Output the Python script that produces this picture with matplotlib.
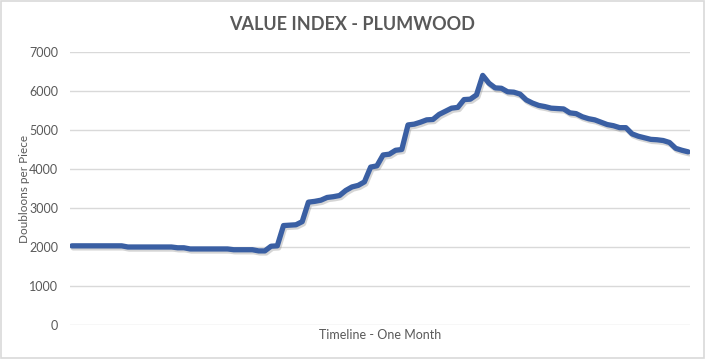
import numpy as np
import matplotlib
matplotlib.use('Agg')
import matplotlib.pyplot as plt
import matplotlib.patheffects as pe

# 价格指数，大约一个月的数据
values = [2030, 2030, 2030, 2030, 2030, 2030, 2030, 2030, 2030, 2000,
          2000, 2000, 2000, 2000, 2000, 2000, 2000, 1980, 1980, 1950,
          1950, 1950, 1950, 1950, 1950, 1950, 1930, 1930, 1930, 1930,
          1900, 1900, 2020, 2030, 2550, 2560, 2570, 2650, 3150, 3170,
          3200, 3270, 3290, 3320, 3450, 3540, 3580, 3670, 4050, 4080,
          4360, 4380, 4480, 4500, 5130, 5150, 5200, 5260, 5270, 5400,
          5480, 5560, 5580, 5780, 5790, 5900, 6400, 6200, 6080, 6070,
          5980, 5970, 5920, 5770, 5690, 5630, 5600, 5560, 5550, 5540,
          5440, 5420, 5340, 5290, 5260, 5200, 5140, 5110, 5060, 5060,
          4900, 4840, 4800, 4760, 4750, 4730, 4680, 4530, 4480, 4440]
yticks = [0, 1000, 2000, 3000, 4000, 5000, 6000, 7000]

title = 'VALUE INDEX - PLUMWOOD'
xlabel = 'Timeline - One Month'
ylabel = 'Doubloons per Piece'

plt.rcParams['font.family'] = ['Lato', 'DejaVu Sans']
grey = '#595959'

fig = plt.figure(figsize=(7.05, 3.59), dpi=100)
# 外边框
fig.patches.append(plt.Rectangle((0.001, 0.002), 0.997, 0.995, transform=fig.transFigure,
                                 fill=False, edgecolor='#D9D9D9', linewidth=1.2))
ax = fig.add_axes([70 / 705, 1 - 325 / 359, 620 / 705, 273 / 359])

x = np.arange(len(values))
ax.plot(x, values, color='#3A5FA3', linewidth=3.8, solid_capstyle='round',
        solid_joinstyle='round',
        path_effects=[pe.SimpleLineShadow(offset=(1, -1.5), shadow_color='#777777', alpha=0.3),
                      pe.Normal()])

ax.set_xlim(-0.3, len(values) - 0.7)
ax.set_ylim(0, 7000)
ax.set_yticks(yticks)
ax.set_yticklabels([str(v) for v in yticks])
ax.set_xticks([])
ax.grid(axis='y', color='#D9D9D9', linewidth=1)
ax.set_axisbelow(True)
for s in ax.spines.values():
    s.set_visible(False)
ax.tick_params(axis='y', length=0, pad=8.5, labelsize=9, labelcolor=grey)

ax.set_xlabel(xlabel, fontsize=9, color=grey, labelpad=3)
ax.set_ylabel(ylabel, fontsize=8.5, color=grey)
ax.yaxis.set_label_coords(-0.064, 0.5)
fig.text(0.5, 1 - 25 / 359, title, ha='center', va='center', fontsize=13,
         fontweight='bold', color=grey)

fig.savefig('out.png', dpi=100)
